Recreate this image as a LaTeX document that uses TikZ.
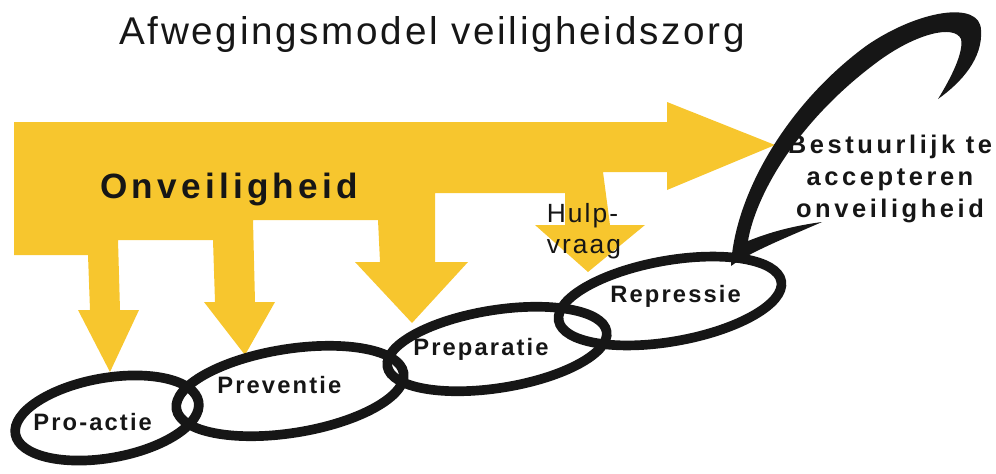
\documentclass[tikz,border=0pt]{standalone}
\usepackage{fontspec}
\setmainfont{Liberation Sans}
\newfontfamily\titlefont[LetterSpace=7]{Liberation Sans}
\newfontfamily\hulpfont[LetterSpace=8]{Liberation Sans}
\newfontfamily\bigfont[LetterSpace=12]{Liberation Sans Bold}
\newfontfamily\linkfont[LetterSpace=9]{Liberation Sans Bold}
\newfontfamily\bestfont[LetterSpace=14]{Liberation Sans Bold}
\usepackage{tikz}
\usetikzlibrary{shapes.geometric}
\definecolor{geel}{RGB}{247,198,46}
\definecolor{inkt}{RGB}{22,22,22}
\tikzset{
    ring/.style={shape=ellipse, draw=inkt, line width=5.5pt, inner sep=0pt},
    linklabel/.style={font=\linkfont\fontsize{13.5}{16}\selectfont, text=inkt, anchor=base west, inner sep=0pt}
}

\begin{document}
\begin{tikzpicture}[x=0.02cm, y=-0.02cm]
    	\useasboundingbox (0,0) rectangle (996,473);
    	% Paths, nodes and arrows:
    	\fill[geel] (14,122) -- (667,122) -- (667,102) -- (775,145) -- (667,190) -- (667,172) -- (603,172) -- (610,225) -- (645,225) -- (588,272) -- (535,225) -- (565,225) -- (565,193) -- (435,193) -- (435,262) -- (468,262) -- (412,323) -- (355,262) -- (380,262) -- (378,220) -- (253,220) -- (255,302) -- (275,302) -- (245,355) -- (204,302) -- (215,302) -- (213,240) -- (118,240) -- (120,310) -- (139,310) -- (110,372) -- (78,310) -- (90,310) -- (88,255) -- (14,255) -- cycle;
    	\node[ring, rotate=10, minimum width=3.72cm, minimum height=1.6cm](proactie) at (107,418){};
    	\node[ring, rotate=9, minimum width=4.6cm, minimum height=1.68cm](preventie) at (290,391){};
    	\node[ring, rotate=9, minimum width=4.44cm, minimum height=1.56cm](preparatie) at (497,349){};
    	\node[ring, rotate=10, minimum width=4.52cm, minimum height=1.62cm](repressie) at (670,301){};
    	% the open loop at the end of the chain
    	\fill[inkt] (822,222) .. controls (790,236) and (750,252) .. (731,266) .. controls (734,200) and (782,108) .. (866,46) .. controls (918,10) and (980,0) .. (981,30) .. controls (983,58) and (962,82) .. (938,99) .. controls (951,78) and (964,52) .. (961,39) .. controls (954,24) and (916,34) .. (880,60) .. controls (795,122) and (755,198) .. (748,241) .. controls (775,230) and (800,225) .. (822,222) -- cycle;
    	% Texts:
    	\node[font=\titlefont\fontsize{22}{26}\selectfont, text=inkt, anchor=base, inner sep=0pt](title) at (432,45){Afwegingsmodel veiligheidszorg};
    	\node[font=\bigfont\fontsize{20}{24}\selectfont, text=inkt, anchor=base west, inner sep=0pt](onveilig) at (100,198){Onveiligheid};
    	\node[font=\hulpfont\fontsize{15}{17.6}\selectfont, text=inkt, align=left, inner sep=0pt](hulp) at (584,231){Hulp-\\vraag};
    	\node[font=\bestfont\fontsize{14.5}{18}\selectfont, text=inkt, align=center, inner sep=0pt](rest) at (890,179){Bestuurlijk te\\accepteren\\onveiligheid};
    	\node[linklabel](proactie-txt) at (33,430){Pro-actie};
    	\node[linklabel](preventie-txt) at (217,393){Preventie};
    	\node[linklabel](preparatie-txt) at (413,355){Preparatie};
    	\node[linklabel](repressie-txt) at (610,302){Repressie};
\end{tikzpicture}
\end{document}
